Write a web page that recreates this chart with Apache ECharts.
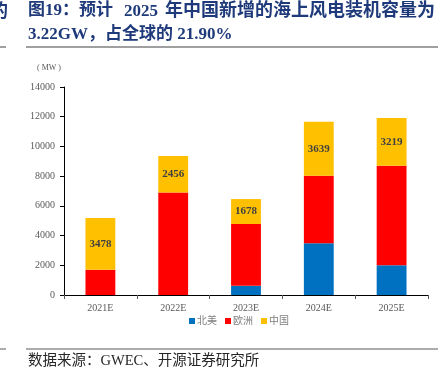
<!DOCTYPE html>
<html><head><meta charset="utf-8">
<script src="https://cdn.jsdelivr.net/npm/echarts@6/dist/echarts.min.js"></script>
<style>html,body{margin:0;padding:0;background:#fff}#c{width:443px;height:389px}</style>
</head><body><div id="c"></div>
<script>
var categories = ['2021E','2022E','2023E','2024E','2025E'];
var northAmerica = [0, 0, 620, 3480, 2000];
var europe = [1700, 6900, 4160, 4550, 6700];
var china = [3478, 2456, 1678, 3639, 3219];
var seriesNames = ['北美','欧洲','中国'];
var yTicks = {min:0, max:14000, interval:2000};

var chart = echarts.init(document.getElementById('c'));
var serif = '"Liberation Serif","Times New Roman","Noto Sans CJK SC",serif';
var cjk = '"Liberation Serif","Noto Sans CJK SC",serif';
var tc = '#1F3A7A';
chart.setOption({
  animation:false,
  grid:{left:64,right:15,top:87,bottom:94},
  legend:{
    data:seriesNames, bottom:58, left:184, itemWidth:6, itemHeight:6, itemGap:8,
    icon:'rect',
    textStyle:{fontSize:10,color:'#7f7f7f',fontFamily:cjk,padding:[0,0,0,-3]}
  },
  xAxis:{
    type:'category', data:categories,
    axisLine:{lineStyle:{color:'#000',width:1}},
    axisTick:{show:true,alignWithLabel:false,length:4,lineStyle:{color:'#595959'}},
    axisLabel:{color:'#595959',fontSize:10,fontFamily:serif,margin:8}
  },
  yAxis:{
    type:'value', min:yTicks.min, max:yTicks.max, interval:yTicks.interval,
    splitLine:{show:false},
    axisLine:{show:true,lineStyle:{color:'#000',width:1}},
    axisTick:{show:true,length:4,lineStyle:{color:'#000'}},
    axisLabel:{color:'#595959',fontSize:10,fontFamily:serif,margin:9,formatter:function(v){return String(v);}}
  },
  series:[
    {name:seriesNames[0],type:'bar',stack:'a',barWidth:'41%',data:northAmerica,itemStyle:{color:'#0070C0'}},
    {name:seriesNames[1],type:'bar',stack:'a',data:europe,itemStyle:{color:'#FF0000'}},
    {name:seriesNames[2],type:'bar',stack:'a',data:china,itemStyle:{color:'#FFC000'},
     label:{show:true,position:'inside',color:'#404040',fontWeight:'bold',fontSize:11,fontFamily:serif}}
  ],
  graphic:[
    {type:'text',left:-10,top:3,style:{text:'的',font:'bold 18px '+cjk,fill:tc}},
    {type:'text',left:28,top:2,style:{text:'图19：预计',font:'bold 17px '+cjk,fill:tc}},
    {type:'text',left:124,top:3,style:{text:'2025',font:'bold 17px '+cjk,fill:tc}},
    {type:'text',left:165,top:2,style:{text:'年中国新增的海上风电装机容量为',font:'bold 18px '+cjk,fill:tc}},
    {type:'text',left:28,top:26,style:{text:'3.22GW，占全球的 21.90%',font:'bold 17px '+cjk,fill:tc}},
    {type:'line',shape:{x1:0,y1:47,x2:6,y2:47},style:{stroke:'#404040',lineWidth:1}},
    {type:'line',shape:{x1:26,y1:47,x2:438,y2:47},style:{stroke:'#404040',lineWidth:1}},
    {type:'line',shape:{x1:0,y1:349,x2:6,y2:349},style:{stroke:'#595959',lineWidth:1}},
    {type:'line',shape:{x1:26,y1:349,x2:438,y2:349},style:{stroke:'#595959',lineWidth:1}},
    {type:'text',left:37,top:64,style:{text:'( MW )',font:'8px '+serif,fill:'#595959'}},
    {type:'text',left:28,top:354,style:{text:'数据来源：GWEC、开源证券研究所',font:'14.5px '+cjk,fill:'#262626'}}
  ]
});
</script></body></html>
